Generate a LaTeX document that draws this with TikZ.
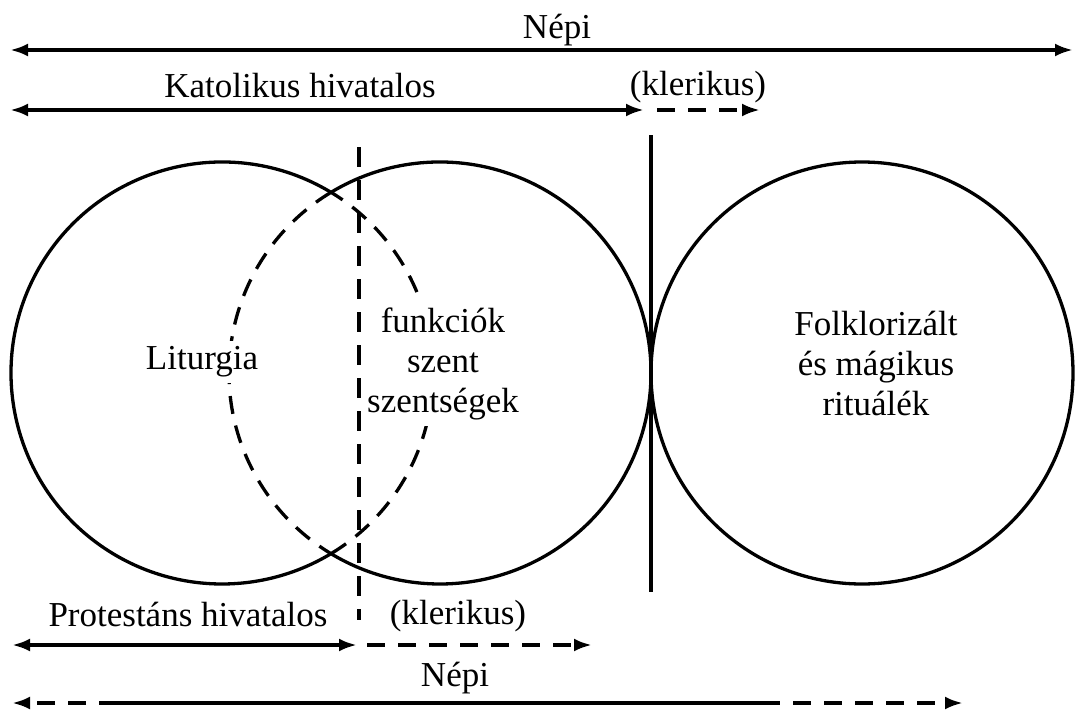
\documentclass[tikz,border=0pt]{standalone}
\usepackage{fontspec}
\setmainfont{Liberation Serif}
\usetikzlibrary{arrows.meta}
\begin{document}
\begin{tikzpicture}[x=1pt,y=-1pt,
  lbl/.style={inner sep=0pt,align=center,font=\fontsize{35}{40}\selectfont},
  mask/.style={lbl,fill=white,inner xsep=6pt,inner ysep=6pt},
  ring/.style={line width=3.3pt},
  dsh/.style={line width=3.3pt,dash pattern=on 18pt off 12pt},
  arr/.style={line width=3.6pt,-{Latex[length=18pt,width=13pt]}},
  darr/.style={line width=3.6pt,dash pattern=on 18pt off 13pt,-{Latex[length=18pt,width=13pt]}},
  dbl/.style={line width=3.6pt,{Latex[length=18pt,width=13pt]}-{Latex[length=18pt,width=13pt]}}]
\useasboundingbox (0,0) rectangle (1075,709);
% circle geometry
\coordinate (Lc) at (222,373);
\coordinate (Mc) at (440,373);
\coordinate (Rc) at (862,373);
\coordinate (I1) at (331,192.33);
\coordinate (I2) at (331,553.67);
% left circle
\draw[ring] (I1) arc[start angle=58.9, end angle=301.1, radius=211pt];
\draw[dsh] (I2) arc[start angle=-58.9, end angle=58.9, radius=211pt];
% middle circle
\draw[ring] (I1) arc[start angle=121.1, end angle=-121.1, radius=211pt];
\draw[dsh] (I1) arc[start angle=121.1, end angle=238.9, radius=211pt];
% right circle
\draw[ring] (Rc) circle[radius=211pt];
% vertical lines
\coordinate (Vt) at (651,135);
\coordinate (Vb) at (651,592);
\draw[line width=3.6pt] (Vt) -- (Vb);
\coordinate (Dt) at (359,147);
\coordinate (Db) at (359,620);
\draw[line width=3.3pt,dash pattern=on 20pt off 13pt] (Dt) -- (Db);
% top arrows
\coordinate (N1a) at (10,50);
\coordinate (N1b) at (1073,50);
\draw[dbl] (N1a) -- (N1b);
\coordinate (K1a) at (10,110);
\coordinate (K1b) at (644,110);
\coordinate (K2a) at (657,110);
\coordinate (K2b) at (760,110);
\draw[dbl] (K1a) -- (K1b);
\draw[darr] (K2a) -- (K2b);
% bottom arrows
\coordinate (P1a) at (12,645);
\coordinate (P1b) at (357,645);
\coordinate (P2a) at (367,645);
\coordinate (P2b) at (592,645);
\draw[dbl] (P1a) -- (P1b);
\draw[darr] (P2a) -- (P2b);
\coordinate (B0) at (12,703);
\coordinate (B1) at (117,703);
\coordinate (B2) at (762,703);
\coordinate (B3) at (963,703);
\draw[darr] (B1) -- (B0);
\draw[line width=3.6pt] (B1) -- (B2);
\draw[darr] (B2) -- (B3);
% labels
\node[lbl] (nepiT) at (557,30) {Népi};
\node[lbl] (kat) at (300,86) {Katolikus hivatalos};
\node[lbl] (klerT) at (698,87) {(klerikus)};
\node[lbl] (prot) at (188,614) {Protestáns hivatalos};
\node[lbl] (klerB) at (458,616) {(klerikus)};
\node[lbl] (nepiB) at (455,678) {Népi};
\node[mask] (lit) at (202,362) {Liturgia};
\node[mask] (funk) at (443,364) {funkciók\\szent\\szentségek};
\node[lbl] (folk) at (876,363) {Folklorizált\\és mágikus\\rituálék};
\end{tikzpicture}
\end{document}
